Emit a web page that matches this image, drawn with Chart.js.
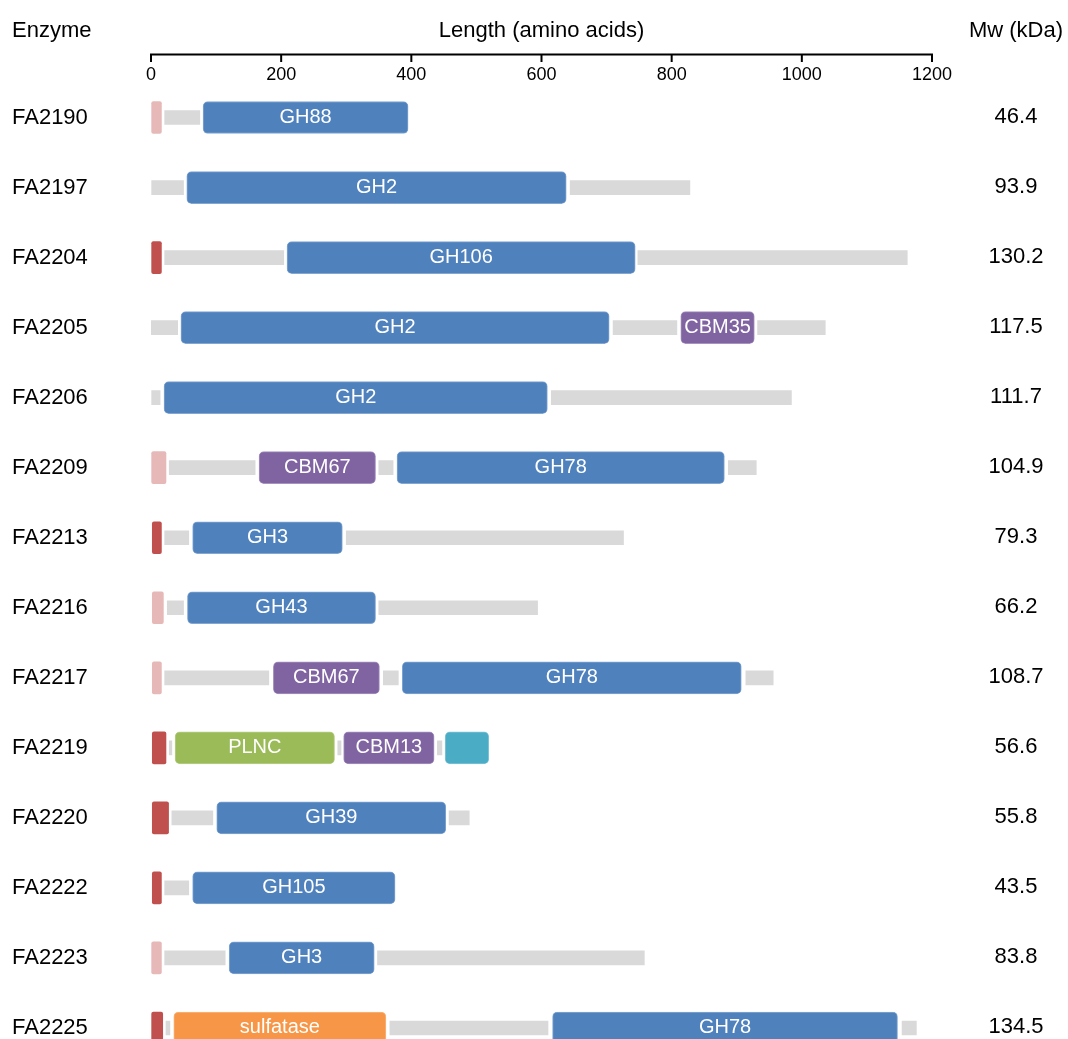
<!DOCTYPE html>
<html><head><meta charset="utf-8">
<script src="https://cdn.jsdelivr.net/npm/chart.js@4.4.1/dist/chart.umd.min.js"></script>
<style>
html,body{margin:0;padding:0;background:#fff;width:1068px;height:1039px;overflow:hidden;}
#wrap{width:1068px;height:1039px;overflow:hidden;position:relative;background:#fff;}
canvas{display:block;}
</style></head><body>
<div id="wrap"><canvas id="c" width="1068" height="1063"></canvas></div>
<script>
// ---------- data ----------
const enzymes = ['FA2190','FA2197','FA2204','FA2205','FA2206','FA2209','FA2213','FA2216','FA2217','FA2219','FA2220','FA2222','FA2223','FA2225'];
const mwKDa = [46.4, 93.9, 130.2, 117.5, 111.7, 104.9, 79.3, 66.2, 108.7, 56.6, 55.8, 43.5, 83.8, 134.5];
const lengthTicks = [0, 200, 400, 600, 800, 1000, 1200];
const headers = ['Enzyme', 'Length (amino acids)', 'Mw (kDa)'];

// [row, start, end, type]
const signalPeptides = [
  [0, 1, 16, 'SPII'], [2, 1, 16, 'SPI'], [5, 1, 23, 'SPII'], [6, 2, 16, 'SPI'],
  [7, 2, 19, 'SPII'], [8, 2, 16, 'SPII'], [9, 2, 23, 'SPI'], [10, 2, 27, 'SPI'],
  [11, 2, 16, 'SPI'], [12, 1, 16, 'SPII'], [13, 1, 18, 'SPI']
];
// [row, start, end]
const linkers = [
  [0, 21, 75],
  [1, 1, 50], [1, 644, 828],
  [2, 21, 204], [2, 748, 1162],
  [3, 0, 41], [3, 710, 808], [3, 932, 1036],
  [4, 1, 14], [4, 615, 984],
  [5, 28, 160], [5, 350, 372], [5, 887, 930],
  [6, 21, 58], [6, 300, 726],
  [7, 25, 50], [7, 350, 594],
  [8, 21, 181], [8, 357, 380], [8, 914, 956],
  [9, 28, 32], [9, 287, 292], [9, 440, 447],
  [10, 32, 95], [10, 458, 489],
  [11, 21, 58],
  [12, 21, 114], [12, 348, 758],
  [13, 23, 29], [13, 367, 610], [13, 1154, 1176]
];
// [row, label, start, end, family]
const domains = [
  [0, 'GH88', 80, 395, 'GH'],
  [1, 'GH2', 55, 638, 'GH'],
  [2, 'GH106', 209, 744, 'GH'],
  [3, 'GH2', 46, 704, 'GH'], [3, 'CBM35', 814, 927, 'CBM'],
  [4, 'GH2', 20, 609, 'GH'],
  [5, 'CBM67', 166, 345, 'CBM'], [5, 'GH78', 378, 881, 'GH'],
  [6, 'GH3', 64, 294, 'GH'],
  [7, 'GH43', 56, 345, 'GH'],
  [8, 'CBM67', 188, 351, 'CBM'], [8, 'GH78', 386, 907, 'GH'],
  [9, 'PLNC', 37, 282, 'PLNC'], [9, 'CBM13', 296, 435, 'CBM'], [9, '', 452, 519, 'other'],
  [10, 'GH39', 101, 453, 'GH'],
  [11, 'GH105', 64, 375, 'GH'],
  [12, 'GH3', 120, 343, 'GH'],
  [13, 'sulfatase', 35, 361, 'sulfatase'], [13, 'GH78', 617, 1147, 'GH']
];

// ---------- styles ----------
const FONT = '"Liberation Sans", Arial, Helvetica, sans-serif';
const familyColors = { GH: '#4F81BD', CBM: '#8064A2', PLNC: '#9BBB59', sulfatase: '#F79646', other: '#4BACC6' };
const signalColors = { SPI: '#C0504D', SPII: '#E6B9B8' };
const linkerColor = '#D9D9D9';
const MW_CENTER = 1016;

function tint(hex, f) {
  const n = parseInt(hex.slice(1), 16);
  const r = (n >> 16) & 255, g = (n >> 8) & 255, b = n & 255;
  const m = c => Math.round(c + (255 - c) * f);
  return `rgb(${m(r)},${m(g)},${m(b)})`;
}

const overlay = {
  id: 'overlay',
  afterDraw(chart) {
    const ctx = chart.ctx, xs = chart.scales.x, ys = chart.scales.y;
    ctx.save();
    // top axis line + tick marks
    ctx.strokeStyle = '#000';
    ctx.lineWidth = 2;
    ctx.beginPath();
    ctx.moveTo(xs.left - 1, 54.5);
    ctx.lineTo(xs.right + 1, 54.5);
    ctx.stroke();
    xs.ticks.forEach(t => {
      const px = xs.getPixelForValue(t.value);
      ctx.beginPath();
      ctx.moveTo(px, 54.5);
      ctx.lineTo(px, 62);
      ctx.stroke();
    });
    // headers
    ctx.fillStyle = '#000';
    ctx.font = `22px ${FONT}`;
    ctx.textBaseline = 'alphabetic';
    ctx.textAlign = 'left';
    ctx.fillText(headers[0], 12, 37);
    ctx.textAlign = 'center';
    ctx.fillText(headers[1], (xs.left + xs.right) / 2, 37);
    ctx.fillText(headers[2], MW_CENTER, 37);
    // Mw column
    ctx.textBaseline = 'middle';
    mwKDa.forEach((v, i) => {
      ctx.fillText(v.toFixed(1), MW_CENTER, ys.getPixelForValue(i) - 1);
    });
    // domain labels
    const meta = chart.getDatasetMeta(2);
    ctx.font = `20px ${FONT}`;
    ctx.fillStyle = '#fff';
    meta.data.forEach((el, i) => {
      const name = domains[i][1];
      if (!name) return;
      ctx.fillText(name, (el.x + el.base) / 2, el.y);
    });
    ctx.restore();
  }
};

new Chart(document.getElementById('c'), {
  type: 'bar',
  data: {
    labels: enzymes,
    datasets: [
      {
        label: 'linker',
        data: linkers.map(([r, s, e]) => ({ x: [s, e], y: enzymes[r] })),
        backgroundColor: linkerColor,
        barThickness: 14,
        grouped: false,
        borderWidth: 0,
        borderRadius: 0
      },
      {
        label: 'signal',
        data: signalPeptides.map(([r, s, e]) => ({ x: [s, e], y: enzymes[r] })),
        backgroundColor: signalPeptides.map(d => signalColors[d[3]]),
        barThickness: 32,
        grouped: false,
        borderWidth: 0,
        borderRadius: 2,
        borderSkipped: false
      },
      {
        label: 'domain',
        data: domains.map(([r, n, s, e]) => ({ x: [s, e], y: enzymes[r] })),
        backgroundColor: domains.map(d => familyColors[d[4]]),
        borderColor: domains.map(d => tint(familyColors[d[4]], 0.3)),
        borderWidth: 1,
        barThickness: 32,
        grouped: false,
        borderRadius: 5,
        borderSkipped: false
      }
    ]
  },
  options: {
    responsive: false,
    animation: false,
    indexAxis: 'y',
    layout: { padding: { left: 12, right: 136, top: 0, bottom: 0 } },
    plugins: { legend: { display: false }, tooltip: { enabled: false }, title: { display: false } },
    scales: {
      x: {
        type: 'linear', position: 'top',
        min: lengthTicks[0], max: lengthTicks[lengthTicks.length - 1],
        grid: { display: false }, border: { display: false },
        afterBuildTicks: s => { s.ticks = lengthTicks.map(v => ({ value: v })); },
        ticks: { font: { size: 18, family: FONT }, color: '#000', padding: -11, maxRotation: 0, autoSkip: false,
                 callback: v => String(v) },
        afterFit: s => { s.height = 82.5; s.paddingLeft = 0; s.paddingRight = 0; }
      },
      y: {
        type: 'category', position: 'left', offset: true,
        grid: { display: false }, border: { display: false },
        ticks: { crossAlign: 'far', font: { size: 22, family: FONT }, color: '#000', autoSkip: false },
        afterFit: s => { s.width = 139; s.paddingTop = 0; s.paddingBottom = 0; }
      }
    }
  },
  plugins: [overlay]
});
</script>
</body></html>
